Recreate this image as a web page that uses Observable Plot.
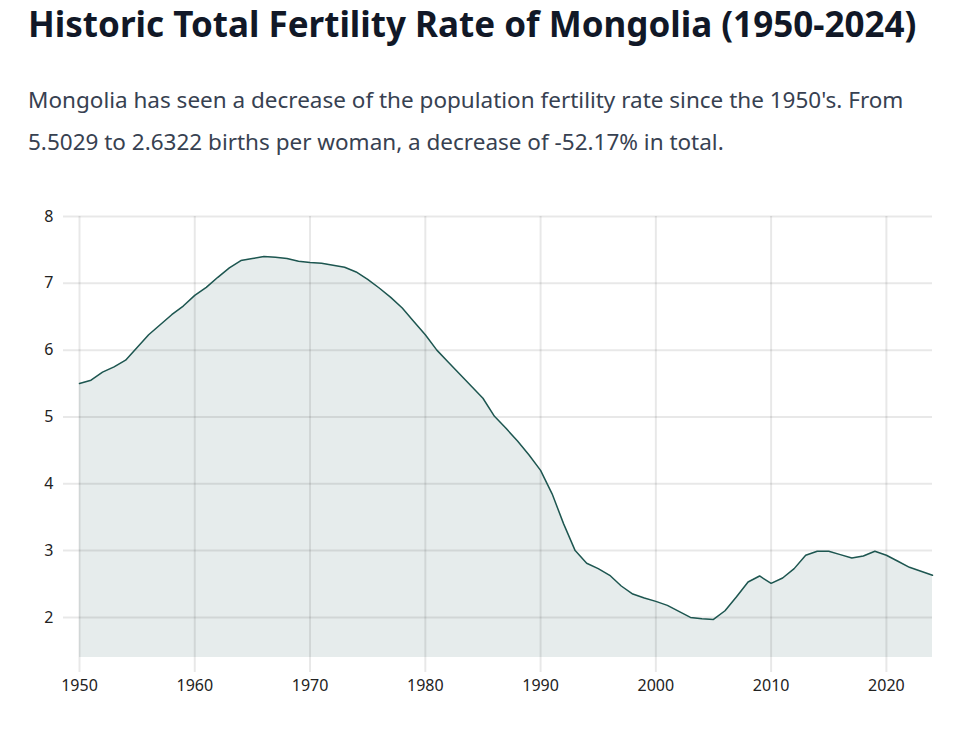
<!DOCTYPE html>
<html>
<head>
<meta charset="utf-8">
<script src="https://cdn.jsdelivr.net/npm/d3@7"></script>
<script src="https://cdn.jsdelivr.net/npm/@observablehq/plot@0.6"></script>
<style>
  html, body { margin: 0; padding: 0; background: #fff; }
  body { width: 970px; height: 740px; overflow: hidden; font-family: "Noto Sans", "Open Sans", sans-serif; }
  h1 { margin: 0; position: absolute; left: 28px; top: 0px; font-size: 35px; line-height: normal; font-weight: 700; color: #111827; white-space: nowrap; }
  p.sub { margin: 0; position: absolute; left: 28px; top: 79px; width: 885px; font-size: 22.5px; line-height: 41.7px; color: #374151; }
  #chart { position: absolute; left: 0; top: 180px; }
</style>
</head>
<body>
<h1>Historic Total Fertility Rate of Mongolia (1950-2024)</h1>
<p class="sub">Mongolia has seen a decrease of the population fertility rate since the 1950's. From 5.5029 to 2.6322 births per woman, a decrease of -52.17% in total.</p>
<div id="chart"></div>
<script>
const years = d3.range(1950, 2025);
const fertility = [
  5.50, 5.55, 5.67, 5.75, 5.85, 6.04, 6.23, 6.38, 6.53, 6.66,
  6.82, 6.94, 7.09, 7.23, 7.34, 7.37, 7.40, 7.39, 7.37, 7.33,
  7.31, 7.30, 7.27, 7.24, 7.17, 7.06, 6.93, 6.79, 6.63, 6.43,
  6.23, 6.00, 5.82, 5.64, 5.46, 5.28, 5.01, 4.83, 4.64, 4.43,
  4.20, 3.85, 3.40, 3.00, 2.81, 2.73, 2.63, 2.47, 2.35, 2.29,
  2.24, 2.18, 2.09, 2.00, 1.98, 1.97, 2.10, 2.31, 2.53, 2.62,
  2.51, 2.59, 2.73, 2.93, 2.99, 2.99, 2.94, 2.89, 2.92, 2.99,
  2.93, 2.84, 2.75, 2.69, 2.63
];
const xTicks = [1950, 1960, 1970, 1980, 1990, 2000, 2010, 2020];
const yTicks = [2, 3, 4, 5, 6, 7, 8];
const yMin = 1.4;

const data = years.map((year, i) => ({year, value: fertility[i]}));

const chart = Plot.plot({
  width: 970,
  height: 522,
  marginTop: 36,
  marginLeft: 63,
  marginRight: 38,
  marginBottom: 30,
  style: { fontFamily: "'Noto Sans', sans-serif", fontSize: "16px", color: "#222" },
  x: { domain: [1950, 2024], insetLeft: 16, label: null },
  y: { domain: [yMin, 8], insetBottom: 15, label: null },
  marks: [
    Plot.areaY(data, { x: "year", y1: yMin, y2: "value", fill: "#1d5650", fillOpacity: 0.11 }),
    Plot.gridX(xTicks, { stroke: "#000", strokeOpacity: 0.09, strokeWidth: 2 }),
    Plot.gridY(yTicks, { stroke: "#000", strokeOpacity: 0.09, strokeWidth: 2 }),
    Plot.lineY(data, { x: "year", y: "value", stroke: "#1d5650", strokeWidth: 1.5 }),
    Plot.axisX(xTicks, { tickSize: 0, tickPadding: 7, fontSize: 16, fill: "#222", tickFormat: d => String(d) }),
    Plot.axisY(yTicks, { tickSize: 0, tickPadding: 10, fontSize: 16, fill: "#222", tickFormat: d => String(d) })
  ]
});
document.getElementById("chart").appendChild(chart);
</script>
</body>
</html>
